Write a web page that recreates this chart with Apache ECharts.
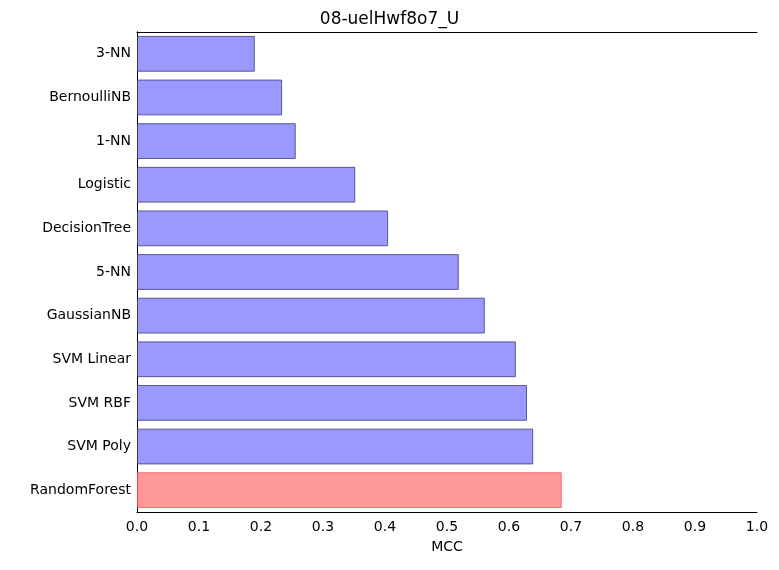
<!DOCTYPE html>
<html><head><meta charset="utf-8">
<script src="https://cdn.jsdelivr.net/npm/echarts@6/dist/echarts.min.js"></script>
<style>html,body{margin:0;padding:0;background:#fff}#c{width:779px;height:570px}</style>
</head><body><div id="c"></div>
<script>
const categories = ["3-NN","BernoulliNB","1-NN","Logistic","DecisionTree","5-NN","GaussianNB","SVM Linear","SVM RBF","SVM Poly","RandomForest"];
const values = [0.190,0.234,0.256,0.352,0.405,0.519,0.561,0.611,0.629,0.639,0.685];
const xTicks = [0,0.1,0.2,0.3,0.4,0.5,0.6,0.7,0.8,0.9,1.0];
const chart = echarts.init(document.getElementById('c'));
const font = 'DejaVu Sans';
const line = {show:true, lineStyle:{color:'#000', width:1}};
chart.setOption({
  animation:false,
  title:{text:'08-uelHwf8o7_U', left:'center', top:6, textStyle:{fontFamily:font, fontSize:17, fontWeight:'normal', color:'#000'}},
  grid:{left:137, right:22, top:32, bottom:58},
  xAxis:[{type:'value', min:0, max:1, interval:0.1, name:'MCC', nameLocation:'middle', nameGap:28,
    nameTextStyle:{fontFamily:font, fontSize:14, color:'#000'},
    axisLine:line, axisTick:{inside:true, length:6, lineStyle:{color:'#000'}}, splitLine:{show:false},
    axisLabel:{fontFamily:font, fontSize:14, color:'#000', formatter:v=>v.toFixed(1)}},
   {type:'value', position:'top', min:0, max:1, interval:0.1, axisLine:line,
    axisTick:{inside:true, length:6, lineStyle:{color:'#000'}}, axisLabel:{show:false}, splitLine:{show:false}}],
  yAxis:[{type:'category', data:categories, inverse:true, axisLine:line,
    axisTick:{inside:true, length:6, alignWithLabel:true, lineStyle:{color:'#000'}},
    axisLabel:{fontFamily:font, fontSize:14, color:'#000', margin:6}},
   {type:'category', data:categories, inverse:true, position:'right', axisLine:line,
    axisTick:{inside:true, length:6, alignWithLabel:true, lineStyle:{color:'#000'}}, axisLabel:{show:false}}],
  series:[{type:'bar', data:values.map((v,i)=>({value:v, itemStyle:{
      color: i===values.length-1 ? 'rgba(255,110,110,0.7)' : 'rgba(110,110,255,0.7)',
      borderColor: i===values.length-1 ? 'rgba(255,80,80,0.8)' : 'rgba(60,60,120,0.8)', borderWidth:1}})),
    barCategoryGap:'18%'}]
});
</script></body></html>
